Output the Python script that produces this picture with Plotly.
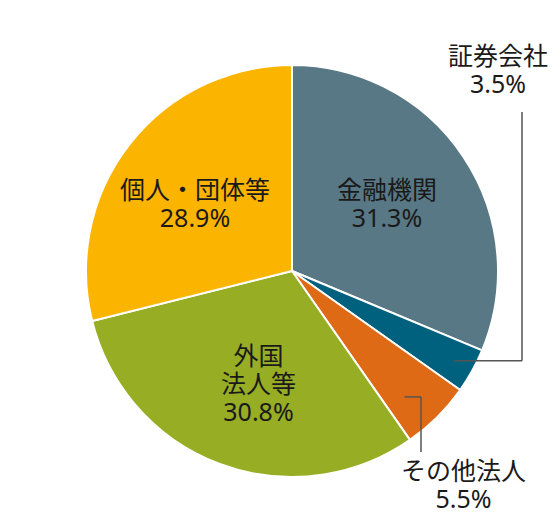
import math
import plotly.graph_objects as go

# 株式の所有者別構成比
labels = ["金融機関", "証券会社", "その他法人", "外国法人等", "個人・団体等"]
shares = [31.3, 3.5, 5.5, 30.8, 28.9]
colors = ["#587886", "#00617f", "#de6a16", "#96ad24", "#fbb400"]
label_lines = [["金融機関"], ["証券会社"], ["その他法人"], ["外国", "法人等"], ["個人・団体等"]]

W, H = 560, 520
OFF = 8                    # page body margin in the browser
CX, CY, R = 292, 271, 206  # pie centre / radius, page pixels


def px(x, y):
    return (x - OFF) / W, 1 - (y - OFF) / H


def slice_point(i, frac, shift=0.0):
    """page pixel point at the middle angle of slice i, frac of the radius"""
    total = sum(shares)
    start = sum(shares[:i]) / total
    ang = (start + shares[i] / total / 2) * 2 * math.pi + math.radians(shift)
    return CX + frac * R * math.sin(ang), CY - frac * R * math.cos(ang)


dx0, dy1 = px(CX - R, CY - R)
dx1, dy0 = px(CX + R, CY + R)

fig = go.Figure(go.Pie(
    labels=labels,
    values=shares,
    sort=False,
    direction="clockwise",
    rotation=0,
    textinfo="none",
    hoverinfo="label+percent",
    marker=dict(colors=colors, line=dict(color="white", width=2)),
    domain=dict(x=[dx0, dx1], y=[dy0, dy1]),
    showlegend=False,
))

# label centres (x, first line y) in page pixels
label_pos = [(387, 189), (498, 55), (463, 470), (258, 355), (195, 189)]
LINE = 28
big = '<span style="font-size:25px">{}</span>'

for i, lines in enumerate(label_lines):
    x, y = label_pos[i]
    rows = lines + [f"{shares[i]:.1f}%"]
    txt = "<br>".join(big.format(t) for t in rows)
    ax, ay = px(x, y + (len(rows) - 1) * LINE / 2)
    # annotation font sets the line pitch (1.3em = 28px), spans set the glyph size
    fig.add_annotation(x=ax, y=ay, xref="paper", yref="paper", text=txt,
                       showarrow=False, xanchor="center", yanchor="middle",
                       align="center",
                       font=dict(size=LINE / 1.3, color="#1a1a1a"))

# leader lines for the small slices
lc = dict(color="#555555", width=1.5)
x0, y0 = slice_point(1, 0.9)
for a, b in [((x0, y0), (522, y0)), ((522, y0), (522, 112))]:
    fig.add_shape(type="line", xref="paper", yref="paper",
                  x0=px(*a)[0], y0=px(*a)[1], x1=px(*b)[0], y1=px(*b)[1], line=lc)
x0, y0 = slice_point(2, 0.82, shift=3)
for a, b in [((x0, y0), (421, y0)), ((421, y0), (421, 452))]:
    fig.add_shape(type="line", xref="paper", yref="paper",
                  x0=px(*a)[0], y0=px(*a)[1], x1=px(*b)[0], y1=px(*b)[1], line=lc)

fig.update_layout(
    width=W, height=H,
    margin=dict(l=0, r=0, t=0, b=0),
    paper_bgcolor="white",
    font=dict(family="Noto Sans, Noto Sans CJK JP, sans-serif"),
)

fig.write_html("out.html")
